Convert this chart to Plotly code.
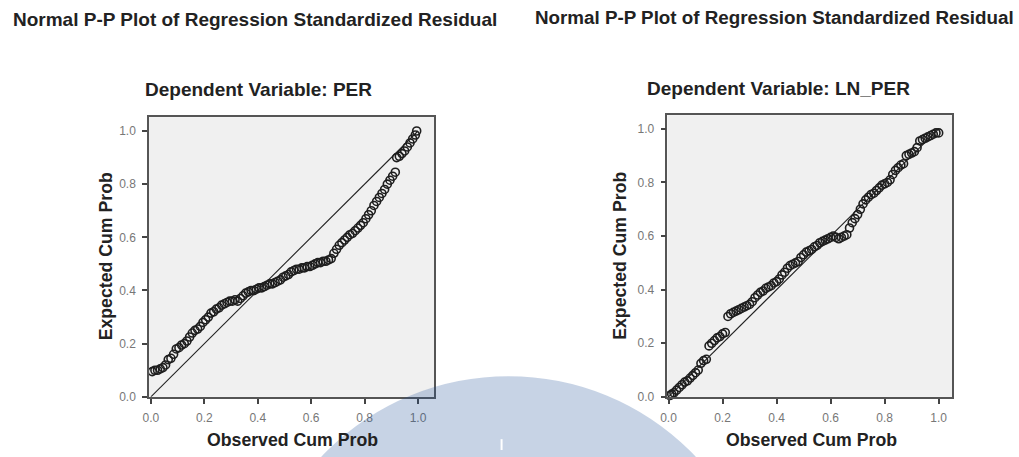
import plotly.graph_objects as go

# ---------------- data ----------------
PER_OBS = [0.005, 0.015, 0.025, 0.035, 0.045, 0.055, 0.065, 0.075, 0.085, 0.095,
           0.105, 0.115, 0.125, 0.135, 0.145, 0.155, 0.165, 0.175, 0.185, 0.195,
           0.205, 0.215, 0.225, 0.235, 0.245, 0.255, 0.265, 0.275, 0.285, 0.295,
           0.305, 0.315, 0.325, 0.335, 0.345, 0.355, 0.365, 0.375, 0.385, 0.395,
           0.405, 0.415, 0.425, 0.435, 0.445, 0.455, 0.465, 0.475, 0.485, 0.495,
           0.505, 0.515, 0.525, 0.535, 0.545, 0.555, 0.565, 0.575, 0.585, 0.595,
           0.605, 0.615, 0.625, 0.635, 0.645, 0.655, 0.665, 0.675, 0.685, 0.695,
           0.705, 0.715, 0.725, 0.735, 0.745, 0.755, 0.765, 0.775, 0.785, 0.795,
           0.805, 0.815, 0.825, 0.835, 0.845, 0.855, 0.865, 0.875, 0.885, 0.895,
           0.905, 0.915, 0.92, 0.93, 0.94, 0.95, 0.96, 0.97, 0.98, 0.99, 0.995]
PER_EXP = [0.095, 0.10, 0.10, 0.105, 0.11, 0.12, 0.14, 0.145, 0.16, 0.18,
           0.185, 0.195, 0.20, 0.21, 0.225, 0.24, 0.25, 0.255, 0.265, 0.28,
           0.29, 0.30, 0.315, 0.32, 0.33, 0.335, 0.345, 0.35, 0.355, 0.36,
           0.36, 0.365, 0.36, 0.37, 0.38, 0.39, 0.395, 0.40, 0.40, 0.405,
           0.41, 0.41, 0.415, 0.42, 0.425, 0.425, 0.43, 0.435, 0.44, 0.45,
           0.455, 0.46, 0.47, 0.475, 0.48, 0.48, 0.485, 0.485, 0.49, 0.49,
           0.495, 0.50, 0.505, 0.505, 0.51, 0.51, 0.515, 0.52, 0.54, 0.555,
           0.57, 0.58, 0.59, 0.60, 0.61, 0.615, 0.625, 0.635, 0.645, 0.655,
           0.67, 0.685, 0.70, 0.72, 0.735, 0.75, 0.765, 0.78, 0.80, 0.815,
           0.83, 0.845, 0.90, 0.905, 0.915, 0.925, 0.94, 0.955, 0.97, 0.985, 1.0]

LN_OBS = [0.005, 0.012, 0.02, 0.03, 0.04, 0.05, 0.06, 0.07, 0.08, 0.09,
          0.10, 0.11, 0.12, 0.13, 0.14, 0.15, 0.16, 0.17, 0.18, 0.19,
          0.20, 0.21, 0.22, 0.23, 0.24, 0.25, 0.26, 0.27, 0.28, 0.29,
          0.30, 0.31, 0.32, 0.33, 0.34, 0.35, 0.36, 0.37, 0.38, 0.39,
          0.40, 0.41, 0.42, 0.43, 0.44, 0.45, 0.46, 0.47, 0.48, 0.49,
          0.50, 0.51, 0.52, 0.53, 0.54, 0.55, 0.56, 0.57, 0.58, 0.59,
          0.60, 0.61, 0.62, 0.63, 0.64, 0.65, 0.66, 0.67, 0.68, 0.69,
          0.70, 0.71, 0.72, 0.73, 0.74, 0.75, 0.76, 0.77, 0.78, 0.79,
          0.80, 0.81, 0.82, 0.83, 0.84, 0.85, 0.86, 0.87, 0.88, 0.89,
          0.90, 0.91, 0.92, 0.93, 0.94, 0.95, 0.96, 0.97, 0.98, 0.99, 1.00]
LN_EXP = [0.005, 0.01, 0.015, 0.025, 0.035, 0.045, 0.055, 0.06, 0.07, 0.08,
          0.09, 0.10, 0.125, 0.135, 0.14, 0.19, 0.20, 0.21, 0.22, 0.225,
          0.235, 0.24, 0.30, 0.31, 0.315, 0.32, 0.325, 0.33, 0.335, 0.34,
          0.345, 0.355, 0.37, 0.38, 0.39, 0.395, 0.405, 0.41, 0.415, 0.425,
          0.43, 0.44, 0.455, 0.465, 0.48, 0.49, 0.495, 0.50, 0.505, 0.52,
          0.53, 0.54, 0.545, 0.55, 0.56, 0.565, 0.575, 0.58, 0.585, 0.59,
          0.595, 0.60, 0.595, 0.59, 0.595, 0.60, 0.605, 0.63, 0.65, 0.665,
          0.68, 0.70, 0.72, 0.735, 0.745, 0.755, 0.76, 0.77, 0.78, 0.79,
          0.795, 0.80, 0.81, 0.83, 0.845, 0.855, 0.865, 0.87, 0.90, 0.905,
          0.91, 0.915, 0.93, 0.955, 0.96, 0.965, 0.97, 0.975, 0.98, 0.985, 0.985]

REF_LINE = [0.0, 1.0]
TICK_VALS = [0.0, 0.2, 0.4, 0.6, 0.8, 1.0]
TICK_TEXT = ["0.0", "0.2", "0.4", "0.6", "0.8", "1.0"]

MAIN_TITLE = "Normal P-P Plot of Regression Standardized Residual"
SUBTITLES = ["Dependent Variable: PER", "Dependent Variable: LN_PER"]
X_TITLE = "Observed Cum Prob"
Y_TITLE = "Expected Cum Prob"

# ---------------- figure ----------------
W, H = 1019, 457
FONT = "Liberation Sans, Arial, sans-serif"

fig = go.Figure()

marker = dict(symbol="circle-open", size=8, color="#1e1e1e", line=dict(width=1.6, color="#1e1e1e"))

fig.add_trace(go.Scatter(x=REF_LINE, y=REF_LINE, mode="lines",
                         line=dict(color="#222222", width=1.1), xaxis="x", yaxis="y",
                         showlegend=False, hoverinfo="skip"))
fig.add_trace(go.Scatter(x=PER_OBS, y=PER_EXP, mode="markers", marker=marker,
                         xaxis="x", yaxis="y", showlegend=False, cliponaxis=False))
fig.add_trace(go.Scatter(x=REF_LINE, y=REF_LINE, mode="lines",
                         line=dict(color="#222222", width=1.1), xaxis="x2", yaxis="y2",
                         showlegend=False, hoverinfo="skip"))
fig.add_trace(go.Scatter(x=LN_OBS, y=LN_EXP, mode="markers", marker=marker,
                         xaxis="x2", yaxis="y2", showlegend=False, cliponaxis=False))

def px(x):
    return x / W

def py(y):
    return 1 - y / H

axis_common = dict(
    showgrid=False, zeroline=False, showline=True, mirror=True,
    linecolor="#555555", linewidth=1.5,
    ticks="outside", ticklen=5, tickwidth=1.5, tickcolor="#444444",
    tickvals=TICK_VALS, ticktext=TICK_TEXT,
    tickfont=dict(family=FONT, size=12, color="#777777"),
    fixedrange=True,
)

fig.update_layout(
    width=W, height=H,
    margin=dict(l=0, r=0, t=0, b=0),
    paper_bgcolor="white",
    plot_bgcolor="#f0f0f0",
    xaxis=dict(domain=[px(143), px(430)], range=[-0.007, 1.06], anchor="y",
               ticklabelstandoff=4, **axis_common),
    yaxis=dict(domain=[py(403), py(119)], range=[0, 1.052], anchor="x",
               ticklabelstandoff=4, **axis_common),
    xaxis2=dict(domain=[px(665), px(952)], range=[-0.004, 1.051], anchor="y2",
                ticklabelstandoff=4, **axis_common),
    yaxis2=dict(domain=[py(403), py(117)], range=[0, 1.051], anchor="x2",
                ticklabelstandoff=4, **axis_common),
)

annotations = []
def text(t, x, y, size, bold=True, angle=0, color="#222222"):
    annotations.append(dict(
        text=f"<b>{t}</b>" if bold else t, x=px(x), y=py(y), xref="paper", yref="paper",
        showarrow=False, xanchor="center", yanchor="middle", textangle=angle,
        font=dict(family=FONT, size=size, color=color)))

text(MAIN_TITLE, 250, 20, 19)
text(MAIN_TITLE, 773, 18, 18.8)
text(SUBTITLES[0], 253, 91, 19)
text(SUBTITLES[1], 777, 90, 19)
text(X_TITLE, 287, 447, 17.7)
text(X_TITLE, 810, 447, 17.7)
text(Y_TITLE, 100, 260, 17.7, angle=-90)
text(Y_TITLE, 617, 260, 17.7, angle=-90)
fig.update_layout(annotations=annotations)

# watermark (semi-transparent blue disc with white stroke)
cx, cy, r = 505, 640, 258
fig.add_shape(type="circle", xref="paper", yref="paper",
              x0=px(cx - r), x1=px(cx + r), y0=py(cy + r), y1=py(cy - r),
              fillcolor="rgb(30,80,150)", opacity=0.25, line=dict(width=0), layer="above")
fig.add_shape(type="line", xref="paper", yref="paper",
              x0=px(498), x1=px(498), y0=py(446), y1=py(457),
              line=dict(color="white", width=2), layer="above")

fig.write_html("out.html")
